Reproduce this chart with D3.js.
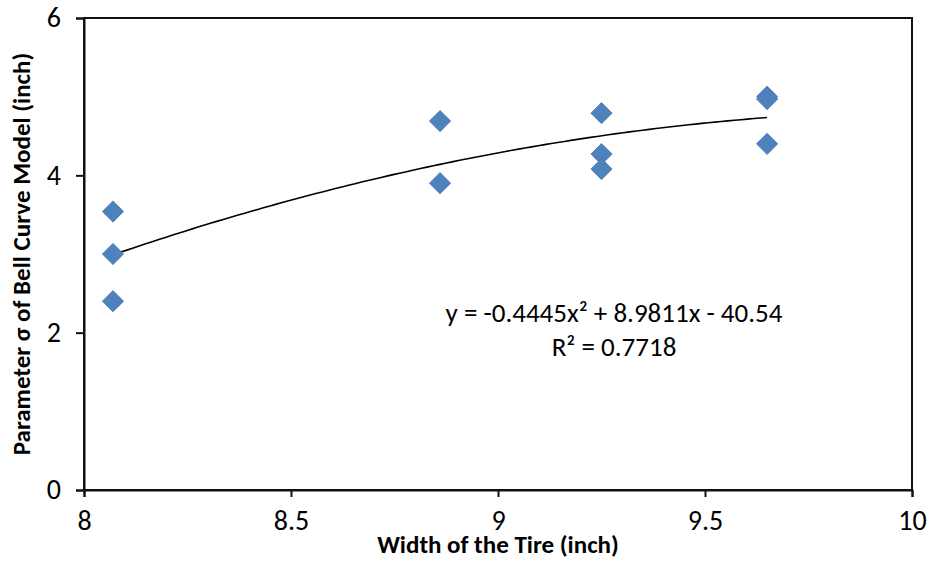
<!DOCTYPE html>
<html>
<head>
<meta charset="utf-8">
<script src="https://cdn.jsdelivr.net/npm/d3@7"></script>
<style>
  html, body { margin: 0; padding: 0; background: #fff; }
  svg { display: block; font-family: Carlito, Lato, "Open Sans", sans-serif; }
</style>
</head>
<body>
<svg id="chart" width="929" height="561"></svg>
<script>
const width = 929;
const height = 561;

// tire width (inch) and fitted sigma (inch)
const tireWidth = [8.07, 8.07, 8.07, 8.86, 8.86, 9.25, 9.25, 9.25, 9.65, 9.65, 9.65];
const sigmaValues = [3.54, 3.0, 2.4, 4.69, 3.9, 4.79, 4.27, 4.08, 5.0, 4.97, 4.4];

// quadratic trend coefficients: a*x^2 + b*x + c
const trendCoef = [-0.4445, 8.9811, -40.54];
const rSquared = "0.7718";

const xTicks = [8, 8.5, 9, 9.5, 10];
const yTicks = [0, 2, 4, 6];

const margin = { top: 18, right: 17, bottom: 71, left: 84 };

const svg = d3.select("#chart");

const x = d3.scaleLinear()
  .domain([8, 10])
  .range([margin.left, width - margin.right]);

const y = d3.scaleLinear()
  .domain([0, 6])
  .range([height - margin.bottom, margin.top]);

// plot frame
svg.append("rect")
  .attr("x", x(8))
  .attr("y", y(6))
  .attr("width", x(10) - x(8))
  .attr("height", y(0) - y(6))
  .attr("fill", "none")
  .attr("stroke", "#111")
  .attr("stroke-width", 2);

const xAxis = svg.append("g")
  .attr("transform", `translate(0,${y(0)})`)
  .call(d3.axisBottom(x).tickValues(xTicks).tickSize(7).tickPadding(13).tickFormat(d3.format("")));

const yAxis = svg.append("g")
  .attr("transform", `translate(${x(8)},0)`)
  .call(d3.axisLeft(y).tickValues(yTicks).tickSize(8).tickPadding(15).tickFormat(d3.format("")));

[xAxis, yAxis].forEach(g => {
  g.select(".domain").attr("stroke", "#111").attr("stroke-width", 2);
  g.selectAll(".tick line").attr("stroke", "#111").attr("stroke-width", 2);
  g.selectAll(".tick text")
    .attr("fill", "#000")
    .style("font-size", "28px")
    .style("font-family", "Carlito, Lato, 'Open Sans', sans-serif");
});

// trend curve over the data range
const trend = v => trendCoef[0] * v * v + trendCoef[1] * v + trendCoef[2];
const xMin = d3.min(tireWidth);
const xMax = d3.max(tireWidth);
const curvePts = d3.range(0, 101).map(i => {
  const v = xMin + (xMax - xMin) * i / 100;
  return [v, trend(v)];
});

svg.append("path")
  .datum(curvePts)
  .attr("fill", "none")
  .attr("stroke", "#000")
  .attr("stroke-width", 1.6)
  .attr("d", d3.line().x(d => x(d[0])).y(d => y(d[1])));

// diamond markers
const diamond = d3.symbol().type(d3.symbolSquare).size(225);
svg.append("g")
  .selectAll("path")
  .data(tireWidth.map((w, i) => [w, sigmaValues[i]]))
  .join("path")
  .attr("d", diamond)
  .attr("transform", d => `translate(${x(d[0])},${y(d[1])}) rotate(45)`)
  .attr("fill", "#4f81bd")
  .attr("stroke", "#4a7ab3")
  .attr("stroke-width", 0.8);

// equation label
svg.append("text")
  .attr("x", 614)
  .attr("y", 322)
  .attr("text-anchor", "middle")
  .style("font-size", "27px")
  .attr("fill", "#000")
  .text(`y = ${trendCoef[0]}x² + ${trendCoef[1]}x - ${Math.abs(trendCoef[2])}`);

svg.append("text")
  .attr("x", 614)
  .attr("y", 356)
  .attr("text-anchor", "middle")
  .style("font-size", "27px")
  .attr("fill", "#000")
  .text(`R² = ${rSquared}`);

// axis titles
svg.append("text")
  .attr("x", (x(8) + x(10)) / 2)
  .attr("y", 553)
  .attr("text-anchor", "middle")
  .style("font-size", "25px")
  .style("font-weight", "bold")
  .text("Width of the Tire (inch)");

svg.append("text")
  .attr("transform", `translate(30,${(y(0) + y(6)) / 2}) rotate(-90)`)
  .attr("text-anchor", "middle")
  .style("font-size", "25px")
  .style("font-weight", "bold")
  .text("Parameter σ of Bell Curve Model (inch)");
</script>
</body>
</html>
